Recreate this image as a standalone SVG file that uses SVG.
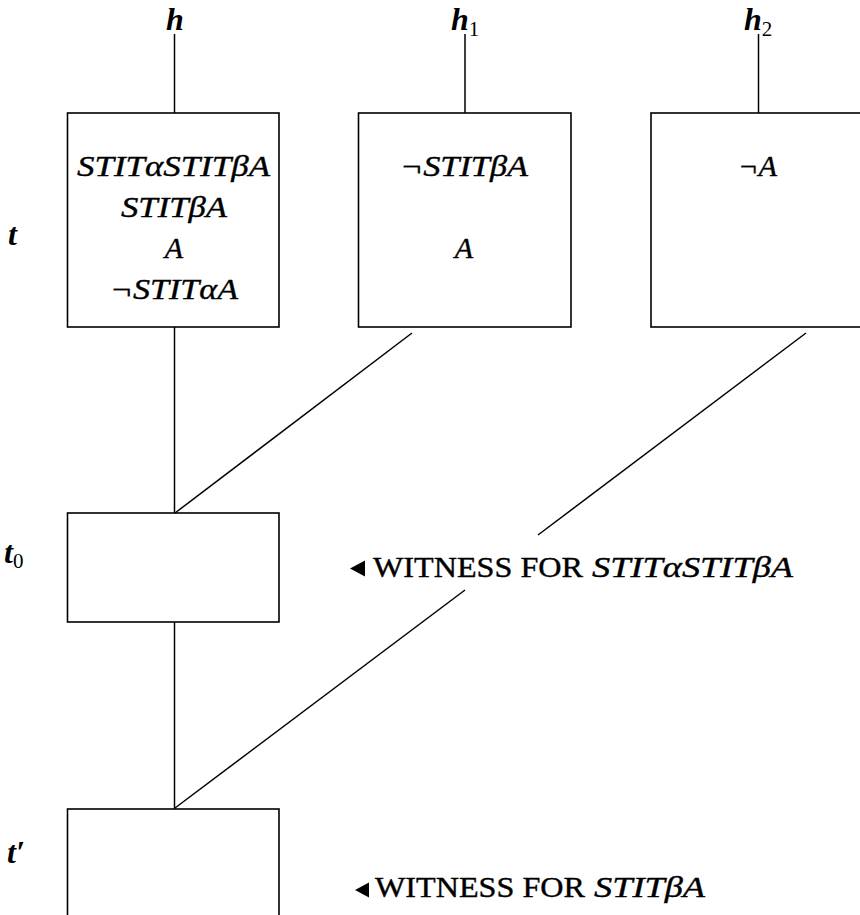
<svg xmlns="http://www.w3.org/2000/svg" width="860" height="915" viewBox="0 0 860 915">
<style>
.box{fill:none;stroke:#000;stroke-width:1.6}
.ln{stroke:#000;stroke-width:1.5;fill:none}
.m{font-family:"Liberation Serif","DejaVu Serif",serif;font-style:italic;font-size:30px;fill:#000;stroke:#000;stroke-width:0.4}
.lbl{font-family:"Liberation Serif","DejaVu Serif",serif;font-style:italic;font-weight:bold;font-size:32px;fill:#000}
.rm{font-family:"Liberation Serif","DejaVu Serif",serif;font-size:30px;fill:#000;stroke:#000;stroke-width:0.4}
.sub{font-size:21px;font-style:normal;font-weight:normal}
</style>
<rect width="860" height="915" fill="#fff"/>
<g id="connectors">
<line class="ln" x1="174.5" y1="34" x2="174.5" y2="113"/>
<line class="ln" x1="465" y1="34" x2="465" y2="113"/>
<line class="ln" x1="758.5" y1="34" x2="758.5" y2="113"/>
<line class="ln" x1="174.5" y1="327" x2="174.5" y2="513"/>
<line class="ln" x1="412" y1="333" x2="175" y2="513"/>
<line class="ln" x1="174.5" y1="622" x2="174.5" y2="809"/>
<line class="ln" x1="806" y1="333" x2="538" y2="535"/>
<line class="ln" x1="465" y1="590" x2="175" y2="808"/>
</g>
<g id="label-h"><text class="lbl" x="166" y="30">h</text></g>
<g id="label-h1"><text class="lbl" x="451" y="30">h<tspan class="sub" dy="6">1</tspan></text></g>
<g id="label-h2"><text class="lbl" x="744" y="30">h<tspan class="sub" dy="6">2</tspan></text></g>
<g id="label-t"><text class="lbl" x="8" y="245">t</text></g>
<g id="label-t0"><text class="lbl" x="4" y="563">t<tspan class="sub" dy="5">0</tspan></text></g>
<g id="label-tprime"><text class="lbl" x="7" y="863">t′</text></g>
<g id="node-h-t">
<rect class="box" x="67.5" y="113" width="211.5" height="214"/>
<text class="m" x="173.5" y="176" text-anchor="middle" textLength="193" lengthAdjust="spacingAndGlyphs">STITαSTITβA</text>
<text class="m" x="174" y="217" text-anchor="middle" textLength="106" lengthAdjust="spacingAndGlyphs">STITβA</text>
<text class="m" x="174" y="258" text-anchor="middle">A</text>
<text class="m" x="174" y="299" text-anchor="middle" textLength="128" lengthAdjust="spacingAndGlyphs">¬STITαA</text>
</g>
<g id="node-h1-t">
<rect class="box" x="358.5" y="113" width="212.5" height="214"/>
<text class="m" x="464" y="176" text-anchor="middle" textLength="128" lengthAdjust="spacingAndGlyphs">¬STITβA</text>
<text class="m" x="464" y="258" text-anchor="middle">A</text>
</g>
<g id="node-h2-t">
<rect class="box" x="651" y="113" width="230" height="214"/>
<text class="m" x="757.5" y="176" text-anchor="middle" textLength="39" lengthAdjust="spacingAndGlyphs">¬A</text>
</g>
<g id="node-t0">
<rect class="box" x="67.5" y="513" width="211.5" height="109"/>
</g>
<g id="node-tprime">
<rect class="box" x="67.5" y="809" width="211.5" height="130"/>
</g>
<g id="witness-1">
<polygon points="350,568.5 365,560.5 365,576.5" fill="#000"/>
<text class="rm" x="373" y="577" textLength="210" lengthAdjust="spacingAndGlyphs">WITNESS FOR</text>
<text class="m" x="592" y="577" textLength="201" lengthAdjust="spacingAndGlyphs">STITαSTITβA</text>
</g>
<g id="witness-2">
<polygon points="355,890 369,882.5 369,897.5" fill="#000"/>
<text class="rm" x="375" y="897" textLength="210" lengthAdjust="spacingAndGlyphs">WITNESS FOR</text>
<text class="m" x="594" y="897" textLength="111" lengthAdjust="spacingAndGlyphs">STITβA</text>
</g>
</svg>
